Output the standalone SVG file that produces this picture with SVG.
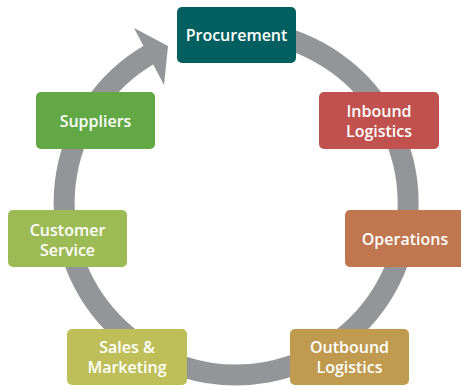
<svg xmlns="http://www.w3.org/2000/svg" width="461" height="390" viewBox="0 0 461 390">
<style>
.box{stroke:none}
.lbl{font-family:"Open Sans","Noto Sans","DejaVu Sans",sans-serif;font-weight:600;font-size:16px;fill:#ffffff;text-anchor:middle}
.ring{fill:none;stroke:#939598;stroke-width:21}
</style>
<rect width="461" height="390" fill="#ffffff"/>
<g id="connectors">
<path class="ring" d="M265.9,33.6 A172,172 0 1 1 149,54.7"/>
<polygon points="134,28 168,46 164,85" fill="#939598"/>
</g>
<g id="procurement">
<rect class="box" x="177" y="7" width="119" height="56" rx="5" fill="#025f60"/>
<text class="lbl" x="236.5" y="41">Procurement</text>
</g>
<g id="inbound">
<rect class="box" x="319" y="92" width="120" height="57" rx="5" fill="#c1514e"/>
<text class="lbl" x="379" y="117">Inbound</text>
<text class="lbl" x="379" y="137">Logistics</text>
</g>
<g id="operations">
<rect class="box" x="345" y="210" width="120" height="57" rx="5" fill="#c0764e"/>
<text class="lbl" x="405" y="245">Operations</text>
</g>
<g id="outbound">
<rect class="box" x="290" y="329" width="119" height="56" rx="5" fill="#c09a4e"/>
<text class="lbl" x="349.5" y="353">Outbound</text>
<text class="lbl" x="349.5" y="373">Logistics</text>
</g>
<g id="sales">
<rect class="box" x="67" y="329" width="120" height="56" rx="5" fill="#bebf58"/>
<text class="lbl" x="127" y="353">Sales &amp;</text>
<text class="lbl" x="127" y="373">Marketing</text>
</g>
<g id="customer">
<rect class="box" x="8" y="210" width="119" height="57" rx="5" fill="#9dbb55"/>
<text class="lbl" x="67.5" y="235.5">Customer</text>
<text class="lbl" x="67.5" y="255.5">Service</text>
</g>
<g id="suppliers">
<rect class="box" x="36" y="92" width="119" height="57" rx="5" fill="#62a845"/>
<text class="lbl" x="95.5" y="126.5">Suppliers</text>
</g>
</svg>
